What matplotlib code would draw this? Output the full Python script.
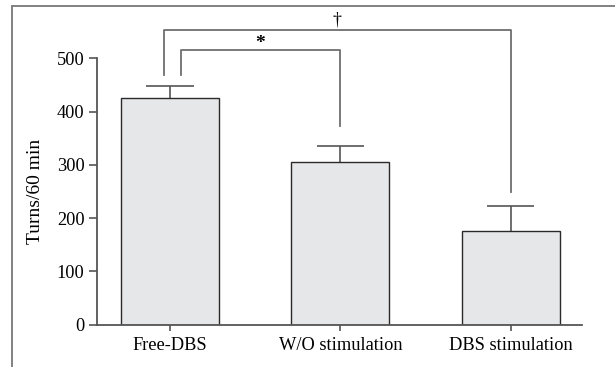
import numpy as np
import matplotlib
matplotlib.use('Agg')
import matplotlib.pyplot as plt
from matplotlib.patches import Rectangle

# data
groups = ['Free-DBS', 'W/O stimulation', 'DBS stimulation']
means = np.array([425, 305, 175])
errs = np.array([23, 30, 48])
yticks = [0, 100, 200, 300, 400, 500]

plt.rcParams['font.family'] = ['Liberation Serif', 'DejaVu Serif']

fig = plt.figure(figsize=(6.15, 3.67), dpi=100)
ax = fig.add_axes([97/615, 1-324.7/367, (582-97)/615, (324.7-58.3)/367])

x = np.arange(len(groups))
ax.bar(x, means, width=0.576, color='#e6e7e8', edgecolor='#2a2a2a', linewidth=1.0, zorder=2)
# upper error bars only
ax.vlines(x, means, means + errs, color='#555555', lw=1.2, zorder=1)
ax.hlines(means + errs, x - 0.14, x + 0.14, color='#555555', lw=1.2, zorder=1)

ax.set_xlim(-0.43, 2.42)
ax.set_ylim(0, 500)
ax.set_yticks(yticks)
ax.set_xticks(x)
ax.set_xticklabels(groups)
ax.set_ylabel('Turns/60 min', fontsize=14, labelpad=9)
ax.tick_params(labelsize=13.2, color='#555555', width=1.2)
ax.tick_params(axis='y', length=6, pad=3)
ax.tick_params(axis='x', length=4.5, pad=4)
for s in ['top', 'right']:
    ax.spines[s].set_visible(False)
for s in ['left', 'bottom']:
    ax.spines[s].set_color('#555555')
    ax.spines[s].set_linewidth(1.3)

# significance brackets
bc = '#6e6e6e'
ax.plot([-0.037, -0.037, 2.0, 2.0], [469, 554, 554, 249], color=bc, lw=1.3, clip_on=False)
ax.plot([0.066, 0.066, 1.0, 1.0], [468, 516, 516, 373], color=bc, lw=1.3, clip_on=False)
ax.text(0.53, 512, '*', ha='center', va='bottom', fontsize=14, fontweight='bold', clip_on=False)
ax.text(0.98, 556, '†', ha='center', va='bottom', fontsize=13, clip_on=False)

# outer frame
fig.patches.append(Rectangle((12/615, -0.1), 1.2, 1-6/367+0.1, transform=fig.transFigure,
                             fill=False, edgecolor='#777777', linewidth=1.3))

fig.savefig('out.png', dpi=100)
